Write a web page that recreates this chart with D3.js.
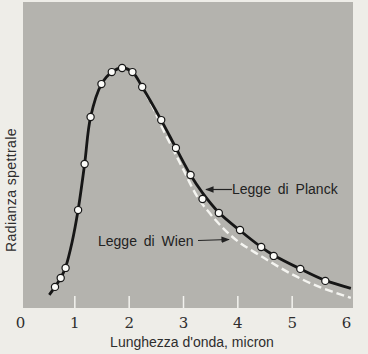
<!DOCTYPE html>
<html>
<head>
<meta charset="utf-8">
<script src="https://cdn.jsdelivr.net/npm/d3@7"></script>
<style>
  html, body { margin: 0; padding: 0; background: #eeede8; }
  svg { display: block; }
  .tick-label { font-family: "DejaVu Serif", "Liberation Serif", serif; }
</style>
</head>
<body>
<svg id="chart" width="368" height="354"></svg>
<script>
// measured points (wavelength in micron, relative radiance)
const pointX = [0.635, 0.74, 0.83, 1.06, 1.18, 1.29, 1.49, 1.68, 1.87, 2.06, 2.24, 2.59, 2.86, 3.13, 3.35, 3.65, 4.04, 4.43, 4.66, 5.15, 5.61];
const pointY = [8.8, 12.5, 16.7, 40.8, 60, 79.6, 93.3, 98.3, 100, 98.3, 92.1, 78.3, 66.7, 55.4, 45.4, 39.6, 32.5, 25.4, 21.7, 16.3, 11.3];

// Planck curve (solid)
const planckX = [0.53, 0.635, 0.74, 0.83, 0.95, 1.06, 1.18, 1.29, 1.49, 1.68, 1.87, 2.06, 2.24, 2.59, 2.86, 3.13, 3.35, 3.65, 4.04, 4.43, 4.66, 5.15, 5.61, 6.08];
const planckY = [5.5, 8.8, 12.5, 17.0, 27.5, 40.8, 60, 79.6, 93.3, 98.3, 100, 98.3, 92.1, 78.3, 66.7, 55.4, 48.0, 39.8, 32.3, 25.4, 22.0, 16.3, 11.5, 8.2];

// Wien curve (dashed)
const wienX = [2.3, 2.45, 2.6, 2.8, 3.0, 3.25, 3.5, 3.75, 4.0, 4.5, 5.0, 5.5, 6.08];
const wienY = [89.5, 83, 75.5, 66.5, 57.5, 46.5, 39.0, 32.8, 27.8, 20.6, 14.0, 8.8, 4.2];

const xTicks = [0, 1, 2, 3, 4, 5, 6];

const svg = d3.select("#chart");

const x = d3.scaleLinear().domain([0, 6]).range([20.5, 346.5]);
const y = d3.scaleLinear().domain([0, 100]).range([308, 68]);

// gray panel
svg.append("rect")
  .attr("x", 23).attr("y", 2)
  .attr("width", 330).attr("height", 306)
  .attr("fill", "#b4b3ae");

// white tick marks at the bottom of the panel
svg.append("g")
  .selectAll("line")
  .data(xTicks.filter((d) => d > 0 && d < 6))
  .enter()
  .append("line")
  .attr("x1", (d) => x(d)).attr("x2", (d) => x(d))
  .attr("y1", 296).attr("y2", 308)
  .attr("stroke", "#f3f3ef")
  .attr("stroke-width", 1.5);

// tick labels
svg.append("g")
  .selectAll("text")
  .data(xTicks)
  .enter()
  .append("text")
  .attr("class", "tick-label")
  .attr("x", (d) => x(d))
  .attr("y", 328)
  .attr("text-anchor", "middle")
  .attr("font-size", 15)
  .attr("fill", "#2e2e2e")
  .text((d) => d);

svg.append("text")
  .attr("x", 192).attr("y", 347)
  .attr("text-anchor", "middle")
  .attr("font-family", "Liberation Sans")
  .attr("font-size", 14)
  .attr("fill", "#2e2e2e")
  .text("Lunghezza d'onda, micron");

svg.append("text")
  .attr("transform", "translate(16,190) rotate(-90)")
  .attr("text-anchor", "middle")
  .attr("font-family", "Liberation Sans")
  .attr("font-size", 14)
  .attr("letter-spacing", 0.4)
  .attr("fill", "#2e2e2e")
  .text("Radianza  spettrale");

const line = d3.line()
  .x((d) => x(d[0]))
  .y((d) => y(d[1]))
  .curve(d3.curveCatmullRom.alpha(0.5));

// Wien (dashed white)
svg.append("path")
  .datum(wienX.map((d, i) => [d, wienY[i]]))
  .attr("d", line)
  .attr("fill", "none")
  .attr("stroke", "#f4f4f0")
  .attr("stroke-width", 2.4)
  .attr("stroke-dasharray", "8,4");

// Planck (solid black)
svg.append("path")
  .datum(planckX.map((d, i) => [d, planckY[i]]))
  .attr("d", line)
  .attr("fill", "none")
  .attr("stroke", "#161616")
  .attr("stroke-width", 2.8);

// measured points
svg.append("g")
  .selectAll("circle")
  .data(pointX)
  .enter()
  .append("circle")
  .attr("cx", (d) => x(d))
  .attr("cy", (d, i) => y(pointY[i]))
  .attr("r", 3.6)
  .attr("fill", "#fbfbf8")
  .attr("stroke", "#161616")
  .attr("stroke-width", 1.2);

// annotations
svg.append("defs").append("marker")
  .attr("id", "arrow")
  .attr("viewBox", "0 0 10 10")
  .attr("refX", 9).attr("refY", 5)
  .attr("markerWidth", 7).attr("markerHeight", 7)
  .attr("orient", "auto")
  .append("path")
  .attr("d", "M0,1 L10,5 L0,9 Z")
  .attr("fill", "#222");

svg.append("line")
  .attr("x1", 232).attr("y1", 189.5)
  .attr("x2", 206).attr("y2", 189.5)
  .attr("stroke", "#222").attr("stroke-width", 1.2)
  .attr("marker-end", "url(#arrow)");

svg.append("text")
  .attr("x", 232).attr("y", 194)
  .attr("font-family", "Liberation Sans")
  .attr("font-size", 14)
  .attr("fill", "#222")
  .attr("word-spacing", 3)
  .text("Legge di Planck");

svg.append("text")
  .attr("x", 98).attr("y", 246)
  .attr("font-family", "Liberation Sans")
  .attr("font-size", 14)
  .attr("fill", "#222")
  .attr("word-spacing", 3)
  .text("Legge di Wien");

svg.append("line")
  .attr("x1", 198).attr("y1", 240.5)
  .attr("x2", 229).attr("y2", 239.5)
  .attr("stroke", "#222").attr("stroke-width", 1.2)
  .attr("marker-end", "url(#arrow)");
</script>
</body>
</html>
